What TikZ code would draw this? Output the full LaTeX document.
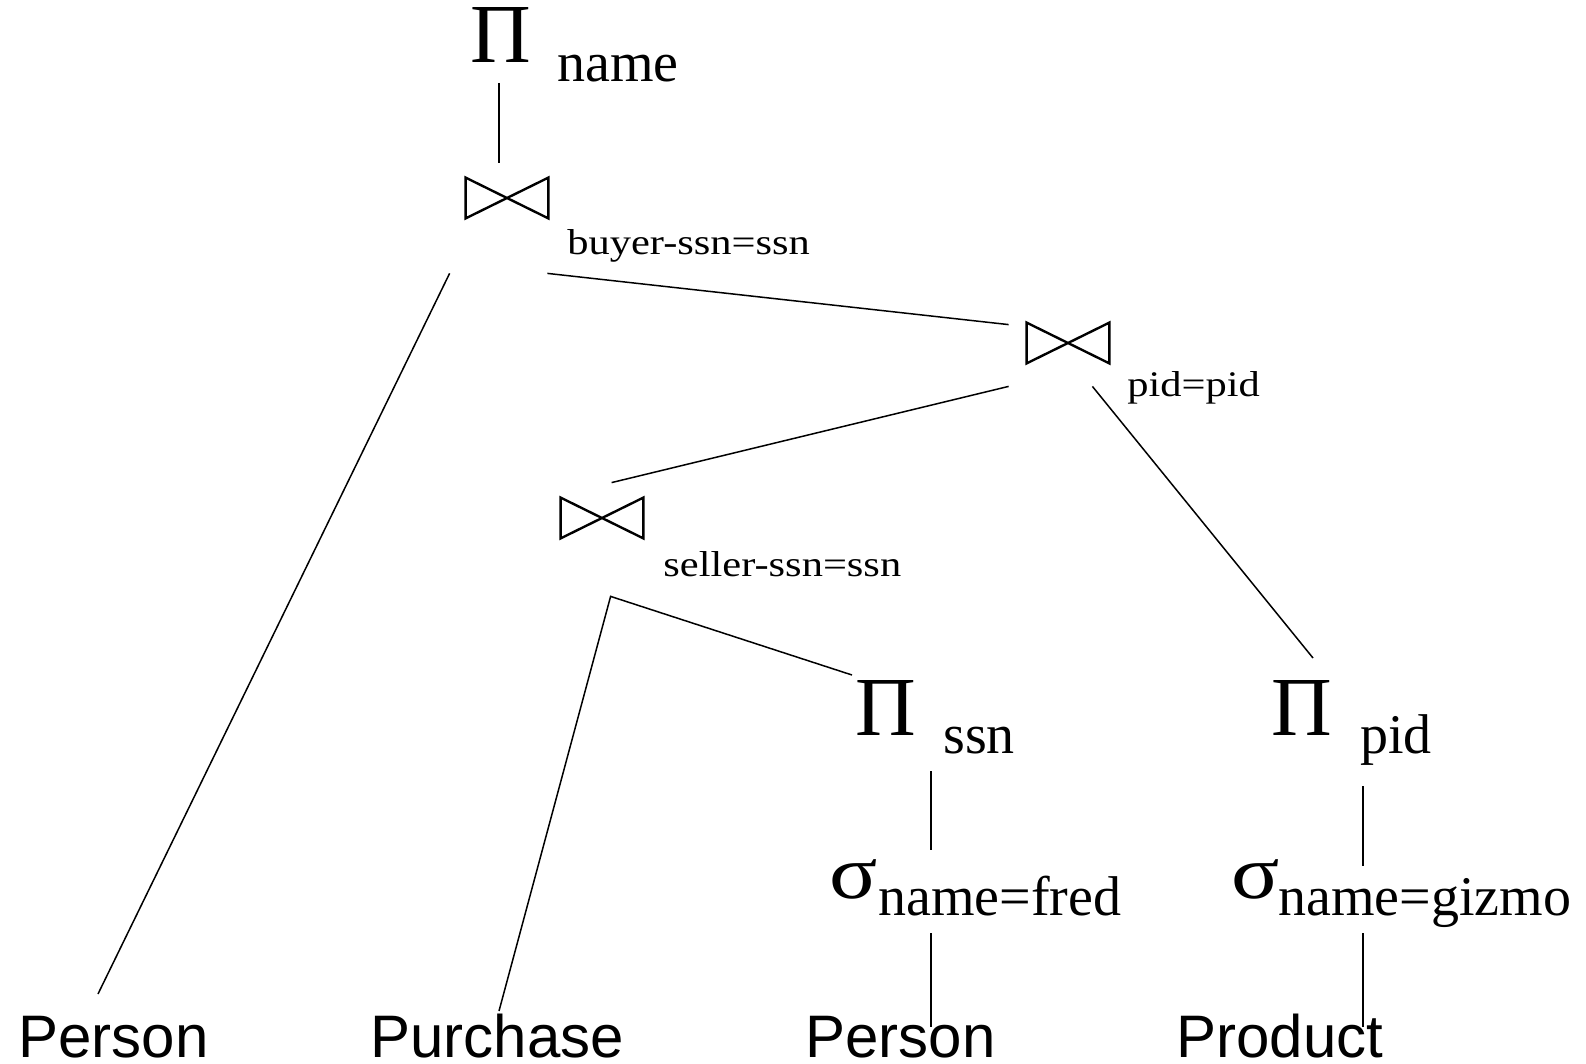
\documentclass[tikz,border=0pt]{standalone}
\usepackage{fontspec}
\usepackage{graphicx}
\setmainfont{Liberation Serif}
\newfontfamily\helv{Liberation Sans}
\newcommand{\widetxt}[1]{\scalebox{1.18}[1]{#1}}
\newcommand{\selsym}{\scalebox{1.12}[0.95]{σ}}
\newcommand{\nodepth}[1]{\raisebox{0pt}[\height][0pt]{#1}}
\tikzset{
  txt/.style={inner sep=0pt, anchor=base west},
  bigop/.style={txt, font=\fontsize{42}{44}\selectfont},
  selop/.style={txt, font=\fontsize{40}{42}\selectfont},
  subtxt/.style={txt, font=\fontsize{28}{30}\selectfont},
  condtxt/.style={txt, font=\fontsize{18}{20}\selectfont},
  reltxt/.style={txt, font=\fontsize{30}{32}\selectfont\helv},
  joinop/.style={inner sep=0pt, minimum width=41pt, minimum height=20pt},
  edge/.style={line width=0.75pt},
}
\begin{document}
\begin{tikzpicture}[x=0.5pt,y=-0.5pt]
    \useasboundingbox (0,0) rectangle (1586,1064);
    % Operatoren
    \node[bigop]  (pname)    at (470,63)  {Π};
    \node[subtxt] (pnamesub) at (557,82)  {name};
    \node[joinop] (j1) at (507,198) {};
    \node[condtxt] (j1lab) at (567,255) {\widetxt{buyer-ssn=ssn}};
    \node[joinop] (j2) at (1068,343) {};
    \node[condtxt] (j2lab) at (1127,397) {\widetxt{pid=pid}};
    \node[joinop] (j3) at (602,518) {};
    \node[condtxt] (j3lab) at (663,576) {\widetxt{seller-ssn=ssn}};
    \node[bigop]  (pssn)    at (855,735)  {Π};
    \node[subtxt] (pssnsub) at (943,753)  {ssn};
    \node[bigop]  (ppid)    at (1271,735) {Π};
    \node[subtxt] (ppidsub) at (1360,753) {pid};
    \node[selop]  (sfred)    at (829,898)  {\selsym};
    \node[subtxt] (sfredsub) at (878,915)  {name=fred};
    \node[selop]  (sgiz)     at (1231,898) {\selsym};
    \node[subtxt] (sgizsub)  at (1278,915) {name=gizmo};
    % Relationen
    \node[reltxt] (r1) at (18,1057)   {\nodepth{Person}};
    \node[reltxt] (r2) at (370,1057)  {\nodepth{Purchase}};
    \node[reltxt] (r3) at (805,1057)  {\nodepth{Person}};
    \node[reltxt] (r4) at (1176,1057) {\nodepth{Product}};

    \foreach \j in {j1,j2,j3}
        \draw[line width=1.2pt] (\j.south west) -- (\j.north east) -- (\j.south east) -- (\j.north west) -- cycle;

    % Kanten
    \draw[edge] ([shift={(29,20)}]pname.base west) -- ([shift={(-8,-15)}]j1.north);
    \draw[edge] ([shift={(-16,55)}]j1.south west) -- ([shift={(80,-63)}]r1.base west);
    \draw[edge] ([shift={(-1,55)}]j1.south east) -- ([shift={(-18,2)}]j2.north west);
    \draw[edge] ([shift={(-18,23)}]j2.south west) -- ([shift={(51,-15)}]j3.north west);
    \draw[edge] ([shift={(-17,23)}]j2.south east) -- ([shift={(42,-77)}]ppid.base west);
    \draw[edge] ([shift={(129,-46)}]r2.base west) -- ([shift={(50,58)}]j3.south west) -- ([shift={(-3,-60)}]pssn.base west);
    \draw[edge] ([shift={(76,36)}]pssn.base west) -- ([shift={(102,-48)}]sfred.base west);
    \draw[edge] ([shift={(102,35)}]sfred.base west) -- ([shift={(126,-30)}]r3.base west);
    \draw[edge] ([shift={(92,51)}]ppid.base west) -- ([shift={(132,-32)}]sgiz.base west);
    \draw[edge] ([shift={(132,35)}]sgiz.base west) -- ([shift={(187,-30)}]r4.base west);
\end{tikzpicture}
\end{document}
